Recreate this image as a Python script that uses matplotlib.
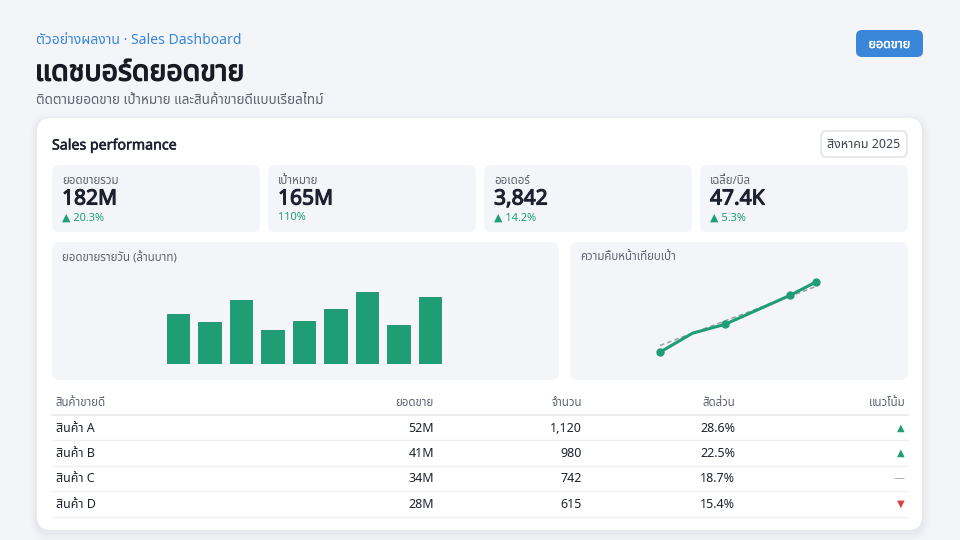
import matplotlib
matplotlib.use("Agg")
import matplotlib.pyplot as plt
import matplotlib.patheffects as pe
from matplotlib.patches import FancyBboxPatch
from matplotlib import font_manager

# ---- data ----
kpi_labels = ["ยอดขายรวม", "เป้าหมาย", "ออเดอร์", "เฉลี่ย/บิล"]
kpi_values = ["182M", "165M", "3,842", "47.4K"]
kpi_changes = ["▲ 20.3%", "110%", "▲ 14.2%", "▲ 5.3%"]

daily_sales = [5.0, 4.2, 6.4, 3.4, 4.3, 5.5, 7.2, 3.9, 6.7]  # ล้านบาท

progress_days = [1, 6, 11, 21, 25]
progress_actual = [25, 42, 50, 76, 88]
target_days = [1, 25]
target_values = [31, 84]

table_header = ["สินค้าขายดี", "ยอดขาย", "จำนวน", "สัดส่วน", "แนวโน้ม"]
products = ["สินค้า A", "สินค้า B", "สินค้า C", "สินค้า D"]
product_sales = ["52M", "41M", "34M", "28M"]
product_qty = ["1,120", "980", "742", "615"]
product_share = ["28.6%", "22.5%", "18.7%", "15.4%"]
product_trend = ["up", "up", "flat", "down"]

# ---- style ----
BG = "#f3f5f9"
PANEL = "#f3f5f9"
GREEN = "#1f9e74"
BLUE = "#3a86d9"
DARK = "#1c2230"
GRAY = "#5b6472"
LINE = "#e6e9ee"

names = {f.name for f in font_manager.fontManager.ttflist}
fams = [f for f in ["Noto Sans", "Noto Sans Thai", "Noto Sans Thai UI", "Noto Sans Thai Looped",
                    "Loma", "Garuda", "Norasi", "DejaVu Sans"] if f in names]
plt.rcParams["font.family"] = fams

W, H = 960, 540
fig = plt.figure(figsize=(9.6, 5.4), dpi=100, facecolor=BG)
bg = fig.add_axes([0, 0, 1, 1])
bg.set_xlim(0, W)
bg.set_ylim(H, 0)
bg.axis("off")


def px(s):
    return s * 0.72


def rbox(x0, y0, x1, y1, r, fc, ec="none", lw=0, z=1, alpha=1.0):
    p = FancyBboxPatch((x0 + r, y0 + r), x1 - x0 - 2 * r, y1 - y0 - 2 * r,
                       boxstyle=f"round,pad={r},rounding_size={r}",
                       fc=fc, ec=ec, lw=lw, zorder=z, alpha=alpha)
    bg.add_patch(p)


def txt(x, y, s, size, color=DARK, ha="left", bold=0.0):
    t = bg.text(x, y + 1, s, fontsize=px(size), color=color, ha=ha, va="center", zorder=10)
    if bold:
        # the Thai face has no bold weight here, so thicken the outline instead
        t.set_path_effects([pe.withStroke(linewidth=bold, foreground=color)])
    return t


# header
txt(36, 39, "ตัวอย่างผลงาน · Sales Dashboard", 14, color=BLUE)
txt(35, 72, "แดชบอร์ดยอดขาย", 28.5, color="#161b26", bold=1.0)
txt(36, 99, "ติดตามยอดขาย เป้าหมาย และสินค้าขายดีแบบเรียลไทม์", 13.5, color=GRAY)

rbox(856, 30, 923, 57, 6, BLUE, z=2)
txt(889.5, 43.5, "ยอดขาย", 12.5, color="white", ha="center", bold=0.3)

# card with soft shadow
for i, a in enumerate([0.025, 0.02, 0.015, 0.01]):
    g = 2 + i * 2
    rbox(37 - g, 118 - g + 3, 922 + g, 530 + g + 3, 14 + g, "#5a6b8c", z=1, alpha=a)
rbox(37, 118, 922, 530, 14, "white", z=2)

txt(52, 145, "Sales performance", 14.2, color=DARK, bold=0.4)
rbox(821, 131, 907, 157, 6, "white", ec="#d8dce3", lw=0.9, z=3)
txt(864, 144, "สิงหาคม 2025", 12.5, color="#3b4250", ha="center")

# KPI tiles
kpi_x = [52, 268, 484, 700]
for x0, lab, val, ch in zip(kpi_x, kpi_labels, kpi_values, kpi_changes):
    rbox(x0, 165, x0 + 208, 232, 8, PANEL, z=3)
    txt(x0 + 10, 180, lab, 11.5, color=GRAY)
    txt(x0 + 10, 198, val, 21, color=DARK, bold=0.8)
    txt(x0 + 10, 217, ch, 11, color=GREEN)

# chart panels
rbox(52, 242, 559, 380, 8, PANEL, z=3)
txt(62, 257, "ยอดขายรายวัน (ล้านบาท)", 11.5, color=GRAY)
rbox(570, 242, 908, 380, 8, PANEL, z=3)
txt(580, 257, "ความคืบหน้าเทียบเป้า", 11.5, color=GRAY)


def add_ax(x0, y0, x1, y1):
    a = fig.add_axes([x0 / W, 1 - y1 / H, (x1 - x0) / W, (y1 - y0) / H])
    a.patch.set_alpha(0)
    a.axis("off")
    return a


# bar chart: unit step 31.5 px, centre of first bar at x=178
bx = add_ax(178 - 0.5 * 31.5, 284, 178 + 8.5 * 31.5, 364)
bars = bx.bar(range(len(daily_sales)), daily_sales, width=0.7, color=GREEN,
              edgecolor="#1a8f68", lw=0.6)
bx.set_xlim(-0.5, len(daily_sales) - 0.5)
bx.set_ylim(0, 8)

# progress line chart: 6.5 px per day starting at x=660; value v at y=380-1.1136*v
k = 98 / 88
lx = add_ax(650, 270, 826, 372)
lx.set_xlim(1 - 10 / 6.5, 1 + 166 / 6.5)
lx.set_ylim((380 - 372) / k, (380 - 270) / k)
lx.plot(target_days, target_values, color="#9aa1ab", lw=1.1, ls=(0, (3, 2)))
lx.plot(progress_days, progress_actual, color=GREEN, lw=2.2, marker="o", ms=5,
        markevery=[0, 2, 3, 4], solid_capstyle="round")

# table
col_x = [56, 434, 582, 735, 905]
col_ha = ["left", "right", "right", "right", "right"]
for x, h, ha in zip(col_x, table_header, col_ha):
    txt(x, 402, h, 11.5, color=GRAY, ha=ha)
bg.plot([52, 908], [414.5, 414.5], color=LINE, lw=1.2, zorder=4)

row_y = [427, 452.5, 478, 503.5]
trend_style = {"up": ("▲", GREEN), "flat": ("—", "#9aa1ab"), "down": ("▼", "#d9413f")}
for y, name, s, q, sh, tr in zip(row_y, products, product_sales, product_qty, product_share, product_trend):
    cells = [name, s, q, sh]
    for x, c, ha in zip(col_x[:4], cells, col_ha[:4]):
        txt(x, y, c, 12.5, color=DARK, ha=ha)
    sym, colr = trend_style[tr]
    txt(905, y, sym, 10 if tr != "flat" else 11, color=colr, ha="right")
    bg.plot([52, 908], [y + 13, y + 13], color="#eef0f3", lw=1, zorder=4)

fig.savefig("out.png", dpi=100, facecolor=BG)
